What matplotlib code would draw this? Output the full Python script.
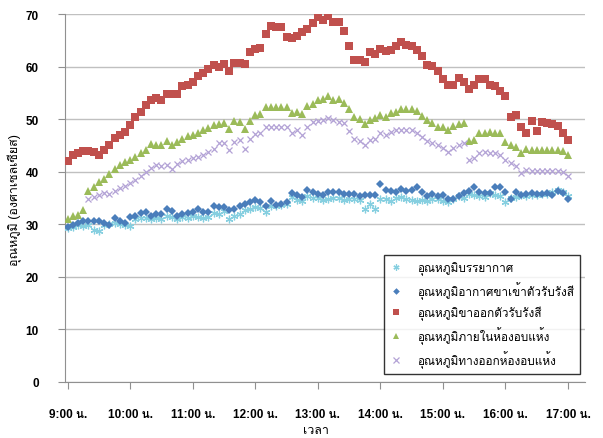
import matplotlib
matplotlib.use("Agg")
import matplotlib.pyplot as plt
import numpy as np
from matplotlib import font_manager
from matplotlib.ft2font import FT2Font


def find_thai_font():
    # pick any installed font that carries Thai glyphs
    for f in font_manager.fontManager.ttflist:
        try:
            if 0x0E01 in FT2Font(f.fname).get_charmap():
                return f.name
        except Exception:
            pass
    return None


thai = find_thai_font()
families = ["Liberation Sans"] + ([thai] if thai else []) + ["DejaVu Sans"]
plt.rcParams["font.family"] = families

# readings every 5 minutes from 9:00 to 17:00
minutes = np.arange(97) * 5
hours = minutes / 60.0

ambient = [
    29.3, 29.5, 29.8, 29.6, 29.8, 29.0, 28.8, 29.8, 30.0, 30.2, 30.0, 29.8, 29.7, 31.0, 31.1, 31.2,
    31.0, 31.2, 31.0, 31.6, 31.3, 31.0, 31.3, 31.2, 31.6, 31.4, 31.2, 31.3, 32.2, 32.0, 32.5, 31.0,
    31.5, 32.0, 32.8, 33.0,
    33.2, 33.1, 32.4, 33.4, 33.4, 33.6, 33.8, 35.1, 34.7, 34.5, 35.3, 35.0, 35.0, 34.7, 34.8, 35.0,
    35.0, 34.7, 34.9, 34.9, 34.7, 32.9, 33.8, 33.0, 34.8, 34.8, 34.5, 35.0, 35.1, 34.8, 34.6, 34.5,
    34.7, 34.5,
    34.8, 34.9, 34.5, 34.3, 34.8, 35.3, 35.0, 35.8, 35.5, 35.4, 35.2, 36.0, 35.6, 35.3, 34.3, 35.0,
    35.2, 35.5, 35.4, 35.5, 35.6, 35.7, 35.8, 36.1, 36.6, 36.2, 35.3,
]
collector_in = [
    29.4, 29.8, 30.2, 30.6, 30.6, 30.6, 30.6, 30.3, 29.8, 31.1, 30.6, 30.2, 31.3, 31.6, 32.1, 32.4,
    31.6, 31.9, 31.9, 33.0, 32.6, 31.6, 31.9, 32.2, 32.4, 32.9, 32.4, 32.4, 33.4, 33.2, 33.2, 32.8,
    33.0, 33.4, 33.8, 34.2,
    34.7, 34.2, 33.4, 34.5, 33.7, 33.8, 34.3, 36.0, 35.6, 35.1, 36.6, 36.1, 35.8, 35.6, 36.2, 36.2,
    36.1, 35.8, 35.8, 35.8, 35.3, 35.6, 35.6, 35.6, 37.7, 36.6, 36.4, 36.1, 36.7, 36.4, 36.6, 37.1,
    36.1, 35.4, 35.8, 35.4, 35.6, 34.8, 34.9, 35.4, 36.0, 36.3, 37.1, 36.1, 36.0, 36.0, 37.1, 37.1,
    36.1, 34.9, 36.1, 35.6, 35.8, 36.0, 35.8, 35.8, 36.0, 35.6, 36.4, 36.0, 34.9,
]
collector_out = [
    42.0, 43.1, 43.5, 43.9, 43.9, 43.7, 43.1, 44.2, 45.0, 46.4, 46.9, 47.5, 48.9, 50.4, 51.3, 52.7,
    53.7, 54.0, 53.7, 54.8, 54.8, 54.8, 56.3, 56.5, 57.0, 58.2, 58.8, 59.6, 60.3, 60.0, 60.5, 59.2,
    60.7, 60.7, 60.5, 62.7,
    63.4, 63.6, 66.2, 67.7, 67.6, 67.5, 65.6, 65.4, 65.8, 66.6, 67.2, 68.2, 69.4, 68.8, 69.7, 68.5,
    68.4, 66.8, 63.9, 61.2, 61.2, 60.8, 62.7, 62.4, 63.4, 62.9, 63.1, 64.0, 64.7, 64.1, 63.9, 63.2,
    62.0, 60.3,
    60.2, 59.2, 57.7, 56.5, 56.5, 57.8, 57.0, 55.8, 56.5, 57.7, 57.7, 56.5, 56.3, 55.4, 54.4, 50.4,
    50.8, 48.5, 47.3, 49.6, 47.7, 49.4, 49.3, 49.1, 48.7, 47.4, 46.1,
]
dryer_inside = [
    31.0, 31.6, 31.7, 32.8,
    36.4, 37.1, 38.0, 38.7, 39.6, 40.6, 41.2, 41.9, 42.2, 42.8, 43.5, 44.1, 45.2, 45.1, 45.1, 45.8,
    45.1, 45.7, 46.2, 46.7, 47.0, 47.3, 47.9, 48.3, 48.8, 49.0, 49.2, 48.2, 49.6, 49.5, 48.2, 49.6,
    50.8, 50.9, 52.3, 52.3, 52.3, 52.3, 52.3, 51.1, 51.4, 50.9, 52.5, 52.8, 53.6, 53.9, 54.4, 53.6,
    53.8, 53.0, 51.9, 50.4, 50.0, 49.0, 49.9, 50.3, 50.8, 50.4, 51.1, 51.4, 52.0, 52.0, 52.0, 51.6,
    50.6, 49.8,
    49.2, 48.5, 48.5, 47.9, 48.7, 49.0, 49.2, 45.8, 46.0, 47.3, 47.3, 47.6, 47.3, 47.3, 45.7, 45.1,
    44.7, 43.5, 44.4, 44.1, 44.1, 44.1, 44.1, 44.1, 44.1, 43.9, 43.2,
]
dryer_outlet = [
    np.nan, np.nan, np.nan, np.nan,
    34.8, 35.2, 35.6, 36.0, 35.8, 36.4, 36.9, 37.2, 37.8, 38.5, 39.2, 40.0, 40.8, 41.3, 41.0, 41.3,
    40.6, 41.5, 42.0, 42.2, 42.6, 42.8, 43.1, 43.8, 44.4, 45.4, 45.4, 44.1, 45.7, 46.0, 44.4, 46.3,
    47.1, 47.3, 48.5, 48.5, 48.5, 48.5, 48.5, 47.3, 47.9, 47.0, 48.5, 49.4, 49.6, 49.8, 50.3, 49.8,
    49.4, 49.2, 47.7, 46.3, 45.8, 45.1, 46.0, 46.3, 47.3, 47.0, 47.6, 47.9, 47.9, 47.9, 47.9, 47.4,
    46.6, 45.8,
    45.4, 45.1, 44.6, 43.8, 44.6, 45.1, 45.4, 42.2, 42.7, 43.5, 43.7, 43.5, 43.5, 43.2, 42.2, 41.6,
    41.0, 39.7, 40.3, 40.1, 40.1, 40.1, 40.1, 40.1, 40.1, 40.0, 39.2,
]

labels = [
    "อุณหภูมิบรรยากาศ",
    "อุณหภูมิอากาศขาเข้าตัวรับรังสี",
    "อุณหภูมิขาออกตัวรับรังสี",
    "อุณหภูมิภายในห้องอบแห้ง",
    "อุณหภูมิทางออกห้องอบแห้ง",
]
tick_hours = np.arange(9, 18)
tick_labels = [f"{h}:00 น." for h in tick_hours]

fig = plt.figure(figsize=(6.03, 4.39), dpi=100)
ax = fig.add_axes([0.108, 0.1276, 0.862, 0.8382])

ax.plot(hours, ambient, ls="none", marker=(6, 2, 0), ms=5.5, mew=0.9,
        color="#86cfe0", label=labels[0], zorder=3)
ax.plot(hours, collector_in, ls="none", marker="D", ms=4.2, mew=0,
        color="#4a7ebb", label=labels[1], zorder=4)
ax.plot(hours, collector_out, ls="none", marker="s", ms=5.2, mew=0,
        color="#c0504d", label=labels[2], zorder=3)
ax.plot(hours, dryer_inside, ls="none", marker="^", ms=5.5, mew=0,
        color="#9bbb59", label=labels[3], zorder=3)
ax.plot(hours, dryer_outlet, ls="none", marker="x", ms=5, mew=0.9,
        color="#b3a2d6", label=labels[4], zorder=3)

ax.set_xlim(-0.04, 8.27)
ax.set_ylim(0, 70)
ax.set_yticks(np.arange(0, 71, 10))
ax.set_xticks(tick_hours - 9)
ax.set_xticklabels(tick_labels)
ax.yaxis.grid(True, color="#c0c0c0", lw=1)
ax.set_axisbelow(True)
for s in ["top", "right"]:
    ax.spines[s].set_visible(False)
for s in ["left", "bottom"]:
    ax.spines[s].set_color("#909090")
ax.tick_params(axis="both", colors="#909090", length=5, labelcolor="black",
               labelsize=8.5)
ax.tick_params(axis="x", pad=13.5)
ax.tick_params(axis="y", pad=14)
for t in ax.get_xticklabels() + ax.get_yticklabels():
    t.set_fontweight("bold")

fig.text(316 / 603, 1 - 431 / 439, "เวลา", fontsize=9, ha="center", va="center")
fig.text(15 / 603, 1 - 200 / 439, "อุณหภูมิ (องศาเซลเซียส)", fontsize=9,
         rotation=90, ha="center", va="center")

leg = ax.legend(loc="upper left", bbox_to_anchor=(0.603, 0.36), fontsize=8.5,
                frameon=True, fancybox=False, edgecolor="black",
                labelspacing=0.52, handlelength=1.0, handletextpad=1.25,
                borderpad=0.5, markerscale=0.8)
leg.get_frame().set_linewidth(1.0)

fig.savefig("out.png", dpi=100)
